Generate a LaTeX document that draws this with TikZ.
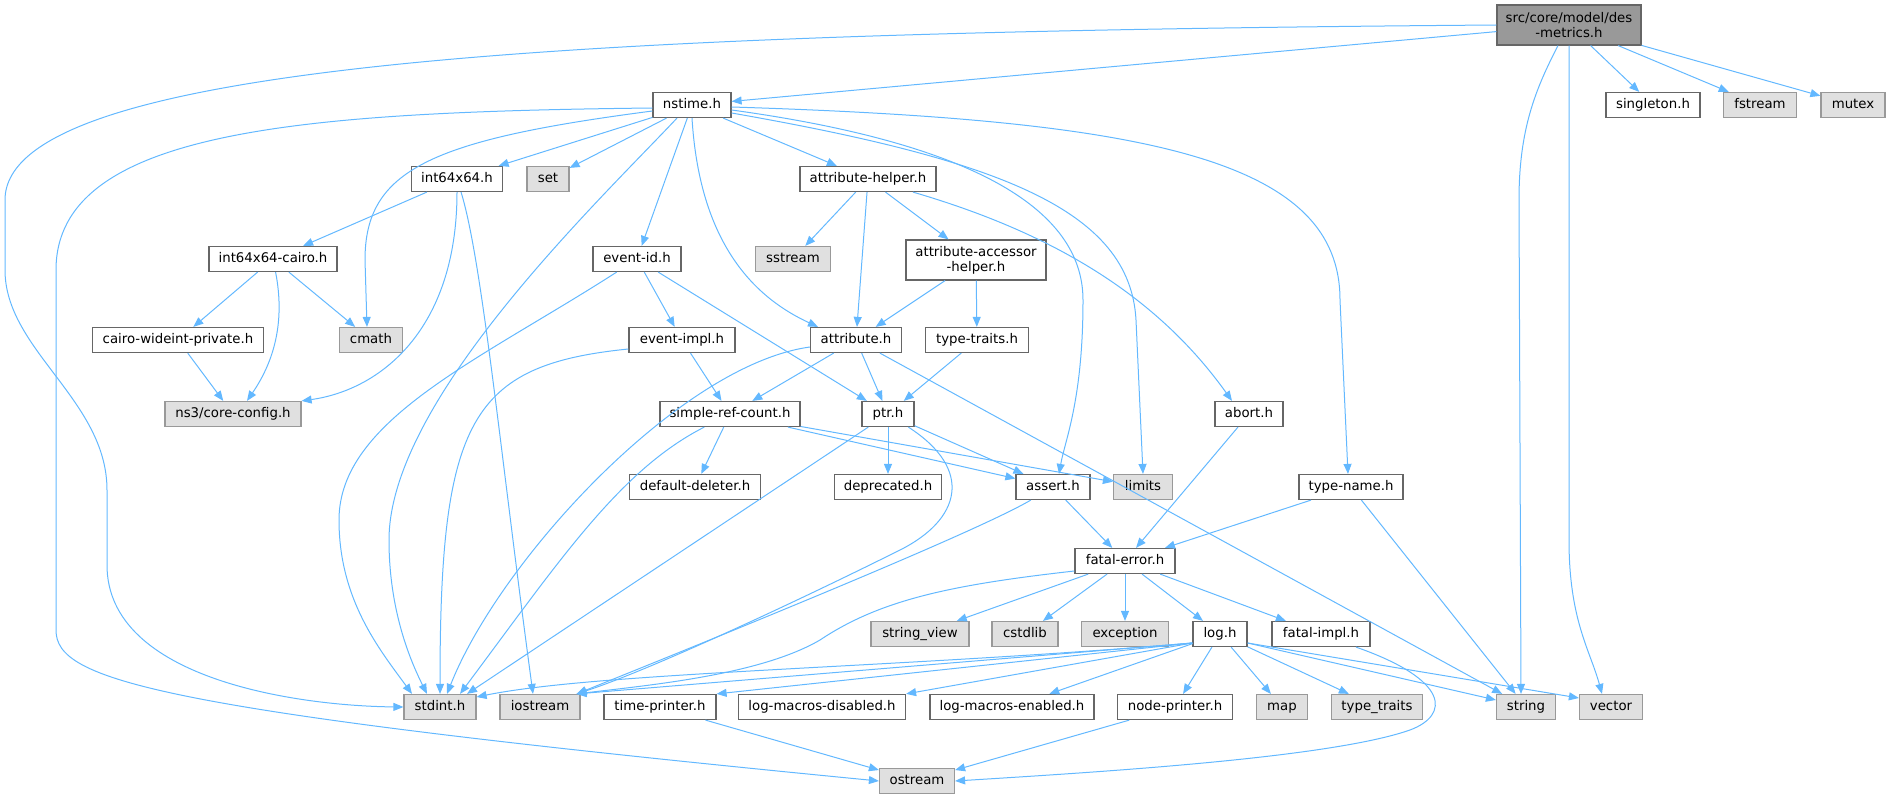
\documentclass[tikz,border=0pt]{standalone}
\usepackage{fontspec}
\setmainfont{DejaVu Sans}
\usetikzlibrary{arrows.meta}

\definecolor{depblue}{HTML}{63B8FF}
\definecolor{fileline}{HTML}{666666}
\definecolor{sysfill}{HTML}{E0E0E0}
\definecolor{sysline}{HTML}{999999}
\definecolor{rootfill}{HTML}{999999}

\begin{document}
\begin{tikzpicture}[
        x=1pt, y=-1pt,
        font=\fontsize{13.3pt}{15pt}\selectfont,
        box/.style = {rectangle, inner xsep=2pt, inner ysep=1pt, line width=1.2pt},
        single/.style = {box, minimum height=25pt, text height=10pt, text depth=3pt},
        file/.style = {single, draw=fileline, fill=white},
        sys/.style = {single, draw=sysline, fill=sysfill},
        filetwo/.style = {box, align=center, minimum height=40pt, draw=fileline, fill=white},
        rootfile/.style = {box, align=center, minimum height=40pt, draw=fileline, fill=rootfill},
        dep/.style = {draw=depblue, line width=1pt, -{Triangle[length=10pt,width=8pt]}}
    ]
    \useasboundingbox (0,0) rectangle (1896,799);

    %nodes
    \node [rootfile, minimum width=144pt] (root) at (1569,25) {src/core/model/des\\-metrics.h};
    \node [file, minimum width=78pt] (nstime) at (692,105) {nstime.h};
    \node [file, minimum width=94pt] (singleton) at (1653,105) {singleton.h};
    \node [sys, minimum width=73pt] (fstream) at (1760,105) {fstream};
    \node [sys, minimum width=64pt] (mutex) at (1853,105) {mutex};
    \node [file, minimum width=91pt] (int64) at (457,179) {int64x64.h};
    \node [sys, minimum width=42pt] (set) at (548,179) {set};
    \node [file, minimum width=136pt] (athelper) at (868,179) {attribute-helper.h};
    \node [file, minimum width=128pt] (cairo) at (273,259) {int64x64-cairo.h};
    \node [file, minimum width=88pt] (eventid) at (637,259) {event-id.h};
    \node [sys, minimum width=75pt] (sstream) at (793,259) {sstream};
    \node [filetwo, minimum width=140pt] (accessor) at (976,260) {attribute-accessor\\-helper.h};
    \node [file, minimum width=171pt] (wideint) at (178,340) {cairo-wideint-private.h};
    \node [sys, minimum width=63pt] (cmath) at (371,340) {cmath};
    \node [file, minimum width=106pt] (eventimpl) at (682,340) {event-impl.h};
    \node [file, minimum width=91pt] (attribute) at (856,340) {attribute.h};
    \node [file, minimum width=103pt] (typetraits) at (977,340) {type-traits.h};
    \node [sys, minimum width=136pt] (coreconfig) at (233,414) {ns3/core-config.h};
    \node [file, minimum width=140pt] (simpleref) at (730,414) {simple-ref-count.h};
    \node [file, minimum width=52pt] (ptr) at (888,414) {ptr.h};
    \node [file, minimum width=68pt] (abort) at (1249,414) {abort.h};
    \node [file, minimum width=131pt] (deleter) at (695,487) {default-deleter.h};
    \node [file, minimum width=107pt] (deprecated) at (888,487) {deprecated.h};
    \node [file, minimum width=74pt] (assert) at (1053,487) {assert.h};
    \node [sys, minimum width=59pt] (limits) at (1143,487) {limits};
    \node [file, minimum width=104pt] (typename) at (1351,487) {type-name.h};
    \node [file, minimum width=100pt] (fatalerror) at (1125,561) {fatal-error.h};
    \node [sys, minimum width=98pt] (stringview) at (920,634) {string\_view};
    \node [sys, minimum width=66pt] (cstdlib) at (1025,634) {cstdlib};
    \node [sys, minimum width=87pt] (exception) at (1125,634) {exception};
    \node [file, minimum width=54pt] (log) at (1220,634) {log.h};
    \node [file, minimum width=98pt] (fatalimpl) at (1321,634) {fatal-impl.h};
    \node [sys, minimum width=72pt] (stdint) at (440,707) {stdint.h};
    \node [sys, minimum width=80pt] (iostream) at (540,707) {iostream};
    \node [file, minimum width=112pt] (timeprinter) at (660,707) {time-printer.h};
    \node [file, minimum width=167pt] (lmdisabled) at (822,707) {log-macros-disabled.h};
    \node [file, minimum width=164pt] (lmenabled) at (1012,707) {log-macros-enabled.h};
    \node [file, minimum width=115pt] (nodeprinter) at (1175,707) {node-printer.h};
    \node [sys, minimum width=51pt] (map) at (1282,707) {map};
    \node [sys, minimum width=91pt] (typetraitsstd) at (1377,707) {type\_traits};
    \node [sys, minimum width=59pt] (string) at (1526,707) {string};
    \node [sys, minimum width=63pt] (vector) at (1611,707) {vector};
    \node [sys, minimum width=75pt] (ostream) at (917,781) {ostream};

    % straight includes
    \foreach \p/\q in {root/nstime, root/singleton, root/fstream, root/mutex,
        nstime/int64, nstime/set, nstime/eventid, nstime/athelper,
        int64/cairo, cairo/wideint, cairo/cmath, wideint/coreconfig,
        athelper/sstream, athelper/attribute, athelper/accessor,
        accessor/attribute, accessor/typetraits, typetraits/ptr,
        eventid/eventimpl, eventid/ptr, eventimpl/simpleref,
        attribute/simpleref, attribute/ptr, attribute/string,
        simpleref/deleter, simpleref/assert, simpleref/limits,
        ptr/deprecated, ptr/assert, abort/fatalerror, assert/fatalerror,
        typename/fatalerror, typename/string,
        fatalerror/stringview, fatalerror/cstdlib, fatalerror/exception,
        fatalerror/log, fatalerror/fatalimpl,
        log/lmenabled, log/nodeprinter, log/map, log/typetraitsstd,
        timeprinter/ostream, nodeprinter/ostream}
        \draw[dep] (\p) -- (\q);

    % long curves on the left
    \draw[dep] (root.west) .. controls (600,32) and (5,60) .. (5,200) -- (5,270)
        .. controls (5,350) and (107,400) .. (107,490) -- (107,565)
        .. controls (107,680) and (300,706) .. (stdint.west);
    \draw[dep] ([yshift=-3pt]nstime.west) .. controls (300,112) and (56,130) .. (56,270) -- (56,630)
        .. controls (56,680) and (150,710) .. (ostream.west);
    \draw[dep] ([yshift=-6pt]nstime.west) .. controls (430,140) and (365,170) .. (365,260) -- ([xshift=-4pt]cmath.north);
    \draw[dep] ([xshift=-15pt]nstime.south) .. controls (600,200) and (389,400) .. (389,540)
        .. controls (389,610) and (410,660) .. ([xshift=-13pt]stdint.north);
    \draw[dep] (nstime.south) .. controls (700,250) and (760,300) .. ([xshift=-38pt]attribute.north);

    % curves to the right of nstime.h
    \draw[dep] ([yshift=-5pt]nstime.east) .. controls (950,140) and (1083,200) .. (1083,300)
        .. controls (1083,400) and (1065,440) .. ([xshift=6pt]assert.north);
    \draw[dep] ([yshift=-8pt]nstime.east) .. controls (1000,160) and (1130,210) .. (1136,320) -- (limits.north);
    \draw[dep] ([yshift=-2pt]nstime.east) .. controls (1150,120) and (1340,160) .. (1340,300) -- ([xshift=-3pt]typename.north);
    \draw[dep] (athelper) .. controls (1060,235) and (1160,300) .. ([xshift=-17pt]abort.north);

    % int64x64 and cairo
    \draw[dep] (int64) .. controls (457,330) and (380,390) .. (coreconfig.north east);
    \draw[dep] (int64) .. controls (482,260) and (500,450) .. ([xshift=-7pt]iostream.north);
    \draw[dep] (cairo) .. controls (285,320) and (275,360) .. ([xshift=14pt]coreconfig.north);

    % into stdint.h
    \draw[dep] (eventid) .. controls (480,360) and (339,420) .. (339,520)
        .. controls (339,600) and (380,650) .. ([xshift=-28pt]stdint.north);
    \draw[dep] ([yshift=-9pt]eventimpl.west) .. controls (470,365) and (440,420) .. (stdint.north);
    \draw[dep] ([yshift=-7pt]attribute.west) .. controls (680,365) and (500,560) .. ([xshift=7pt]stdint.north);
    \draw[dep] (simpleref) .. controls (620,470) and (560,560) .. ([xshift=20pt]stdint.north);
    \draw[dep] (ptr) -- ([xshift=27pt]stdint.north);

    % into iostream
    \draw[dep] (ptr) .. controls (975,470) and (960,520) .. (900,550)
        .. controls (800,600) and (650,670) .. ([xshift=-4pt]iostream.north east);
    \draw[dep] (assert) .. controls (980,530) and (760,620) .. ([xshift=-4pt]iostream.north east);
    \draw[dep] ([yshift=-10pt]fatalerror.west) .. controls (950,585) and (880,600) .. (820,640)
        .. controls (760,675) and (650,685) .. ([xshift=-4pt]iostream.north east);

    % log.h
    \draw[dep] ([yshift=-9pt]log.west) .. controls (900,668) and (600,672) .. ([yshift=10pt]stdint.east);
    \draw[dep] ([yshift=-9pt]log.west) -- ([xshift=-4pt]iostream.north east);
    \draw[dep] ([yshift=-9pt]log.west) -- (timeprinter.north east);
    \draw[dep] ([yshift=-9pt]log.west) -- (lmdisabled.north east);
    \draw[dep] ([yshift=-9pt]log.east) -- ([yshift=7pt]string.west);
    \draw[dep] ([yshift=-9pt]log.east) -- ([yshift=9pt]vector.west);

    % right side
    \draw[dep] ([xshift=-11pt]root.south) .. controls (1535,90) and (1519,130) .. (1519,200) -- ([xshift=-5pt]string.north);
    \draw[dep] (root.south) -- (1569,540) .. controls (1569,620) and (1590,650) .. ([xshift=-9pt]vector.north);
    \draw[dep] ([xshift=35pt]fatalimpl.south) .. controls (1450,680) and (1450,715) .. (1410,730)
        .. controls (1330,758) and (1100,772) .. (ostream.east);

\end{tikzpicture}
\end{document}
